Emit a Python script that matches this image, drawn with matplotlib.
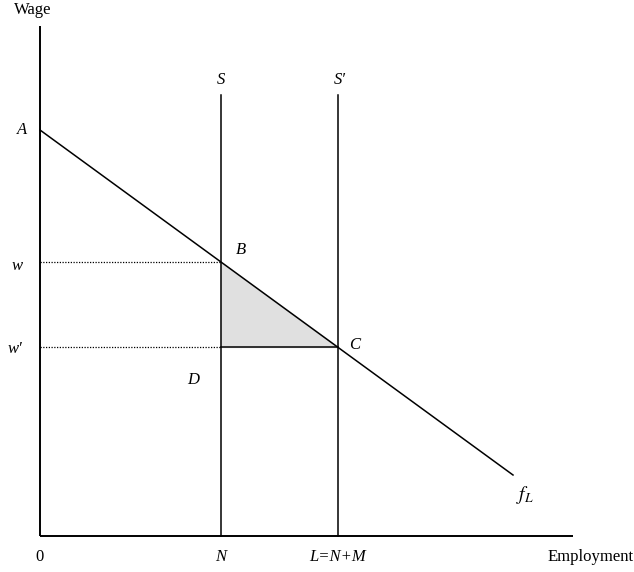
import numpy as np
import matplotlib.pyplot as plt

plt.rcParams['font.family'] = ['Liberation Serif', 'DejaVu Serif']
plt.rcParams['mathtext.fontset'] = 'stix'

# diagram values (origin at 0,0)
demand_x = [0, 473]          # f_L runs from A down to its end
demand_y = [406, 61]
N = 181                      # native labour supply
L = 298                      # total supply L = N + M
supply_top = 441
x_axis_end = 533
y_axis_end = 510

w = np.interp(N, demand_x, demand_y)
w_prime = np.interp(L, demand_x, demand_y)

fig = plt.figure(figsize=(6.34, 5.72), dpi=100)
ax = fig.add_axes([0, 0, 1, 1])
ax.set_xlim(-40, 594)
ax.set_ylim(-36, 536)
ax.axis('off')

# axes
ax.plot([0, 0], [0, y_axis_end], color='black', lw=1.4, solid_capstyle='butt')
ax.plot([0, x_axis_end], [0, 0], color='black', lw=1.4, solid_capstyle='butt')

# shaded gain triangle
ax.fill([N, N, L], [w, w_prime, w_prime], color='#e0e0e0', zorder=1)

# demand curve and supply lines
ax.plot(demand_x, demand_y, color='black', lw=1.1)
ax.plot([N, N], [0, supply_top], color='black', lw=1.1)
ax.plot([L, L], [0, supply_top], color='black', lw=1.1)

# wage guides
ax.plot([0, N], [w, w], color='black', lw=0.9, ls=(0, (1, 1.2)))
ax.plot([0, N], [w_prime, w_prime], color='black', lw=0.9, ls=(0, (1, 1.2)))
ax.plot([N, L], [w_prime, w_prime], color='black', lw=1.1)

fs = 12
ax.text(-7, 526, 'Wage', fontsize=fs, ha='center', va='center')
ax.text(-18, demand_y[0], 'A', fontsize=fs, style='italic', ha='center', va='center')
ax.text(-23, w - 4, 'w', fontsize=fs, style='italic', ha='center', va='center')
ax.text(-25, w_prime - 2, "w\u2032", fontsize=fs, style='italic', ha='center', va='center')
ax.text(201, 286, 'B', fontsize=fs, style='italic', ha='center', va='center')
ax.text(315, 191, 'C', fontsize=fs, style='italic', ha='center', va='center')
ax.text(153, 156, 'D', fontsize=fs, style='italic', ha='center', va='center')
ax.text(N, 456, 'S', fontsize=fs, style='italic', ha='center', va='center')
ax.text(L + 2, 456, "S\u2032", fontsize=fs, style='italic', ha='center', va='center')
ax.text(485, 41, r'$f_L$', fontsize=fs + 2, ha='center', va='center')

ax.text(0, -21, '0', fontsize=fs, ha='center', va='center')
ax.text(N, -21, 'N', fontsize=fs, style='italic', ha='center', va='center')
ax.text(L, -21, 'L=N+M', fontsize=fs, style='italic', ha='center', va='center')
ax.text(594, -21, 'Employment', fontsize=fs, ha='right', va='center')

fig.savefig('out.png', dpi=100)
